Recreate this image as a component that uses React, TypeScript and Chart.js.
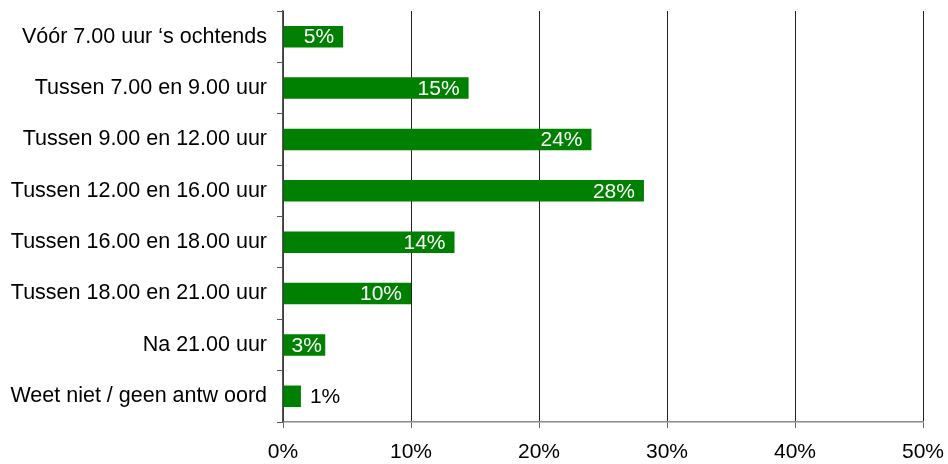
import React, { useEffect, useRef } from "react";
import { Chart, registerables } from "chart.js";

Chart.register(...registerables);

const categories = [
  "Vóór 7.00 uur ‘s ochtends",
  "Tussen 7.00 en 9.00 uur",
  "Tussen 9.00 en 12.00 uur",
  "Tussen 12.00 en 16.00 uur",
  "Tussen 16.00 en 18.00 uur",
  "Tussen 18.00 en 21.00 uur",
  "Na 21.00 uur",
  "Weet niet / geen antw oord",
];
const values = [4.7, 14.5, 24.1, 28.2, 13.4, 10.0, 3.3, 1.4];
const valueLabels = ["5%", "15%", "24%", "28%", "14%", "10%", "3%", "1%"];
const xTicks = [0, 10, 20, 30, 40, 50];

const FONT = "'Liberation Sans', Arial, Helvetica, sans-serif";

const barLabelPlugin = {
  id: "barLabels",
  afterDatasetsDraw(chart: any) {
    const ctx = chart.ctx;
    const meta = chart.getDatasetMeta(0);
    ctx.save();
    ctx.font = `21px ${FONT}`;
    ctx.textBaseline = "middle";
    ctx.textAlign = "left";
    meta.data.forEach((bar: any, i: number) => {
      const text = valueLabels[i];
      const w = ctx.measureText(text).width;
      const base = bar.base;
      const end = bar.x;
      const barW = end - base;
      if (w + 8 > barW) {
        ctx.fillStyle = "#000";
        ctx.fillText(text, end + 9, bar.y + 1);
      } else {
        ctx.fillStyle = "#fff";
        const x = Math.max(end - 9 - w, base + 8);
        ctx.fillText(text, x, bar.y + 1);
      }
    });
    ctx.restore();
  },
};

export default function App() {
  const ref = useRef<HTMLCanvasElement | null>(null);
  useEffect(() => {
    if (!ref.current) return;
    const chart = new Chart(ref.current, {
      type: "bar",
      data: {
        labels: categories,
        datasets: [
          {
            data: values,
            backgroundColor: "#008000",
            barPercentage: 0.42,
            categoryPercentage: 1,
          },
        ],
      },
      options: {
        indexAxis: "y",
        animation: false,
        responsive: true,
        maintainAspectRatio: false,
        layout: { padding: { top: 11, right: 25, left: 0, bottom: 0 } },
        plugins: {
          legend: { display: false },
          tooltip: { enabled: false },
          title: { display: false },
        },
        scales: {
          x: {
            min: xTicks[0],
            max: xTicks[xTicks.length - 1],
            afterBuildTicks(scale: any) {
              scale.ticks = xTicks.map((v) => ({ value: v }));
            },
            afterFit(scale: any) {
              scale.height = 42;
              scale.paddingLeft = 0;
              scale.paddingRight = 0;
            },
            ticks: {
              callback: (v: any) => `${v}%`,
              color: "#000",
              font: { family: FONT, size: 21 },
              padding: 12,
              maxRotation: 0,
            },
            grid: {
              color: "#222",
              lineWidth: 1,
              tickLength: 6,
              drawTicks: true,
              tickColor: "#666",
            },
            border: { color: "#888", width: 1.5 },
          },
          y: {
            afterFit(scale: any) {
              scale.width = 283;
              scale.paddingTop = 0;
              scale.paddingBottom = 0;
            },
            ticks: {
              color: "#000",
              font: { family: FONT, size: 21.5 },
              padding: 10,
            },
            grid: {
              drawOnChartArea: false,
              drawTicks: true,
              tickLength: 6,
              offset: true,
              color: "#555",
            },
            border: { color: "#555", width: 1.5 },
          },
        },
      },
      plugins: [barLabelPlugin],
    });
    return () => chart.destroy();
  }, []);
  return (
    <div style={{ position: "fixed", left: 0, top: 0, width: 948, height: 464, background: "#fff" }}>
      <canvas ref={ref} />
    </div>
  );
}
